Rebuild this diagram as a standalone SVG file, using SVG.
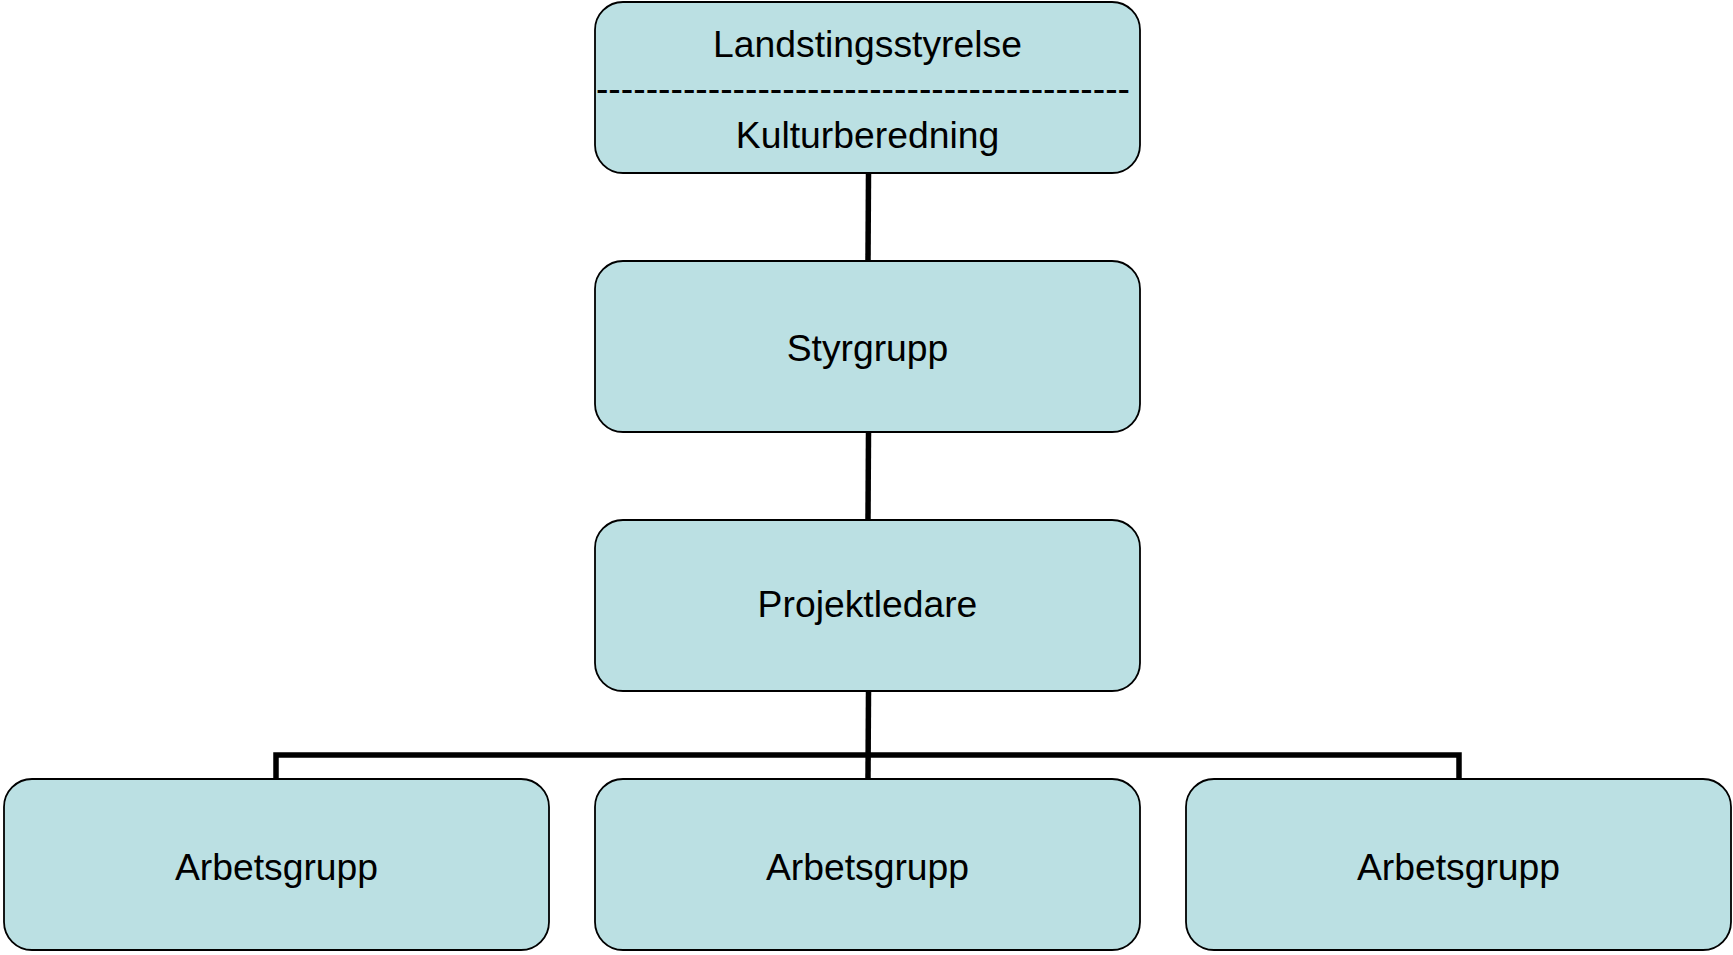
<svg xmlns="http://www.w3.org/2000/svg" width="1733" height="955" viewBox="0 0 1733 955">
<style>
.box{fill:#BBE0E3;stroke:#000;stroke-width:1.8}
.lbl{font-family:"Liberation Sans",Arial,sans-serif;font-size:37.3px;fill:#000;text-anchor:middle}
.conn{fill:none;stroke:#000;stroke-width:5.5}
</style>
<rect width="1733" height="955" fill="#fff"/>
<g id="connectors">
<line class="conn" x1="868.5" y1="173" x2="868" y2="261"/>
<line class="conn" x1="868.5" y1="432" x2="868" y2="520"/>
<line class="conn" x1="868.5" y1="691" x2="868" y2="779"/>
<polyline class="conn" points="276,779 276,755 1459,755 1459,779"/>
</g>
<g id="n-top">
<rect class="box" x="595" y="2" width="545" height="171" rx="28"/>
<text class="lbl" x="867.5" y="57">Landstingsstyrelse</text>
<text class="lbl" x="863" y="101">-------------------------------------------</text>
<text class="lbl" x="867.5" y="148">Kulturberedning</text>
</g>
<g id="n-styrgrupp">
<rect class="box" x="595" y="261" width="545" height="171" rx="28"/>
<text class="lbl" x="867.5" y="361">Styrgrupp</text>
</g>
<g id="n-projektledare">
<rect class="box" x="595" y="520" width="545" height="171" rx="28"/>
<text class="lbl" x="867.5" y="617">Projektledare</text>
</g>
<g id="n-arb1">
<rect class="box" x="4" y="779" width="545" height="171" rx="28"/>
<text class="lbl" x="276.5" y="880">Arbetsgrupp</text>
</g>
<g id="n-arb2">
<rect class="box" x="595" y="779" width="545" height="171" rx="28"/>
<text class="lbl" x="867.5" y="880">Arbetsgrupp</text>
</g>
<g id="n-arb3">
<rect class="box" x="1186" y="779" width="545" height="171" rx="28"/>
<text class="lbl" x="1458.5" y="880">Arbetsgrupp</text>
</g>
</svg>
